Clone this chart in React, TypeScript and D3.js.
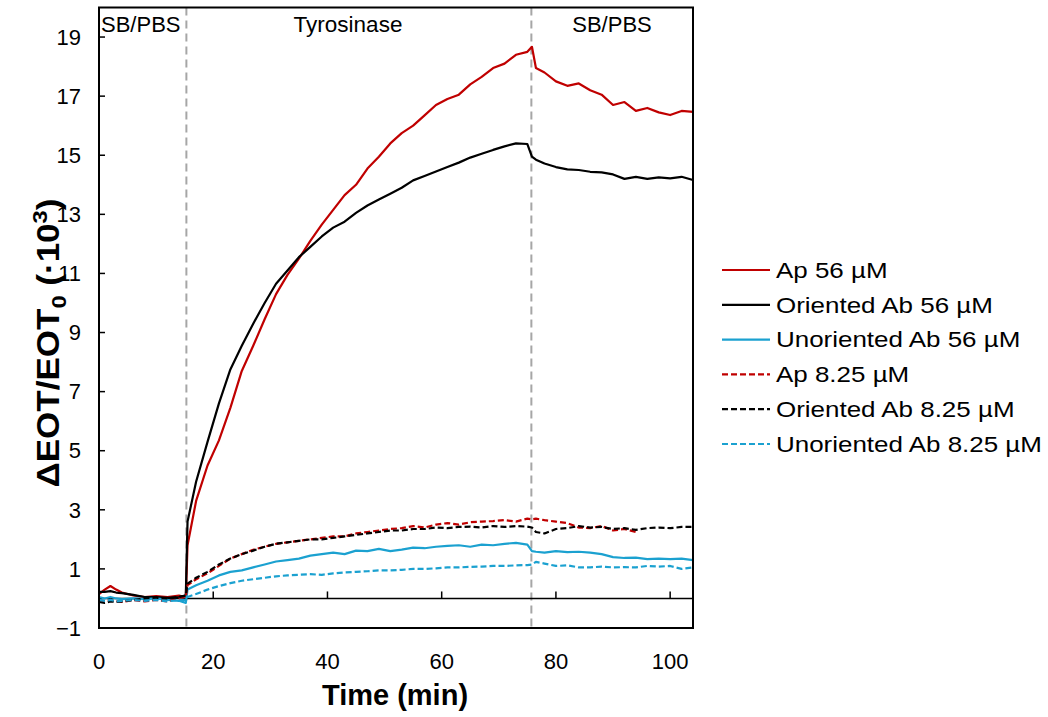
import React from 'react';
import * as d3 from 'd3';

const times = [0, 1, 2, 3, 4, 6, 8, 10, 12, 14, 15.2, 15.5, 17, 19, 21, 23, 25, 27, 29, 31, 33, 35, 37, 39, 41, 43, 45, 47, 49, 51, 53, 55, 57, 59, 61, 63, 65, 67, 69, 71, 73, 75, 75.8, 76.5, 78, 80, 82, 84, 86, 88, 90, 92, 94, 96, 98, 100, 102, 104];

const apHigh = [0.15, 0.3, 0.42, 0.3, 0.2, 0.1, 0.05, 0.08, 0.05, 0.1, 0.05, 1.8, 3.3, 4.5, 5.35, 6.45, 7.7, 8.55, 9.45, 10.3, 10.95, 11.5, 12.1, 12.65, 13.15, 13.65, 14.0, 14.55, 14.95, 15.4, 15.75, 16.0, 16.35, 16.7, 16.9, 17.05, 17.4, 17.65, 17.95, 18.1, 18.4, 18.5, 18.67, 17.95, 17.8, 17.5, 17.35, 17.43, 17.2, 17.05, 16.7, 16.8, 16.5, 16.6, 16.45, 16.36, 16.5, 16.47];

const orientedHigh = [0.22, 0.22, 0.25, 0.2, 0.18, 0.12, 0.05, 0.05, 0.02, 0.05, 0.1, 2.6, 3.95, 5.3, 6.6, 7.75, 8.55, 9.3, 10.0, 10.65, 11.1, 11.55, 11.9, 12.25, 12.55, 12.75, 13.05, 13.3, 13.5, 13.7, 13.9, 14.15, 14.3, 14.45, 14.6, 14.75, 14.92, 15.05, 15.18, 15.3, 15.4, 15.38, 14.95, 14.85, 14.72, 14.6, 14.52, 14.5, 14.44, 14.42, 14.35, 14.2, 14.27, 14.2, 14.25, 14.22, 14.27, 14.16];

const unorientedHigh = [0.05, 0.0, 0.05, 0.0, -0.02, 0.0, -0.02, 0.0, -0.05, -0.08, -0.15, 0.3, 0.45, 0.6, 0.78, 0.9, 0.95, 1.05, 1.15, 1.25, 1.3, 1.35, 1.45, 1.5, 1.55, 1.5, 1.62, 1.6, 1.68, 1.6, 1.65, 1.72, 1.7, 1.75, 1.78, 1.8, 1.75, 1.82, 1.8, 1.85, 1.88, 1.82, 1.6, 1.58, 1.55, 1.6, 1.57, 1.58, 1.55, 1.5, 1.4, 1.37, 1.38, 1.33, 1.35, 1.33, 1.35, 1.3];

const apLow = [-0.05, -0.1, -0.05, -0.1, -0.12, -0.05, -0.1, -0.05, -0.1, 0.0, 0.05, 0.45, 0.65, 0.85, 1.1, 1.35, 1.5, 1.65, 1.75, 1.85, 1.9, 1.95, 2.0, 2.05, 2.1, 2.1, 2.2, 2.25, 2.3, 2.35, 2.38, 2.45, 2.4, 2.5, 2.55, 2.5, 2.58, 2.6, 2.62, 2.65, 2.6, 2.7, 2.68, 2.7, 2.65, 2.6, 2.55, 2.4, 2.38, 2.45, 2.3, 2.35, 2.25, NaN, NaN, NaN, NaN, NaN];

const orientedLow = [-0.12, -0.15, -0.1, -0.12, -0.1, -0.05, 0.0, 0.02, 0.0, 0.05, 0.1, 0.5, 0.7, 0.9, 1.15, 1.35, 1.5, 1.62, 1.75, 1.85, 1.9, 1.95, 2.0, 2.0, 2.05, 2.1, 2.15, 2.2, 2.25, 2.3, 2.3, 2.35, 2.35, 2.4, 2.38, 2.42, 2.43, 2.4, 2.45, 2.42, 2.45, 2.43, 2.4, 2.25, 2.2, 2.35, 2.38, 2.45, 2.4, 2.42, 2.35, 2.38, 2.32, 2.38, 2.4, 2.38, 2.42, 2.42];

const unorientedLow = [-0.05, -0.08, -0.05, -0.1, -0.08, -0.05, -0.08, -0.05, -0.1, -0.05, -0.05, 0.05, 0.15, 0.3, 0.42, 0.52, 0.6, 0.65, 0.7, 0.75, 0.78, 0.8, 0.82, 0.8, 0.85, 0.88, 0.9, 0.92, 0.95, 0.95, 0.97, 1.0, 1.0, 1.02, 1.05, 1.05, 1.07, 1.08, 1.1, 1.1, 1.12, 1.13, 1.15, 1.24, 1.18, 1.1, 1.12, 1.05, 1.05, 1.08, 1.05, 1.06, 1.05, 1.1, 1.08, 1.1, 1.0, 1.05];

const seriesNames = ['Ap 56 µM', 'Oriented Ab 56 µM', 'Unoriented Ab 56 µM', 'Ap 8.25 µM', 'Oriented Ab 8.25 µM', 'Unoriented Ab 8.25 µM'];
const seriesValues = [apHigh, orientedHigh, unorientedHigh, apLow, orientedLow, unorientedLow];
const seriesColors = ['#c00000', '#000000', '#1ba1d0', '#c00000', '#000000', '#1ba1d0'];
const seriesDashed = [false, false, false, true, true, true];

const xTicks = [0, 20, 40, 60, 80, 100];
const yTicks = [-1, 1, 3, 5, 7, 9, 11, 13, 15, 17, 19];
const phaseBoundaries = [15.3, 75.7];
const phaseLabels = ['SB/PBS', 'Tyrosinase', 'SB/PBS'];

const FONT = 'Liberation Sans, Arial, sans-serif';

export default function App() {
  const W = 1048, H = 717;
  const left = 99, right = 693, top = 7.5, bottom = 628;
  const x = d3.scaleLinear().domain([0, 104]).range([left, right]);
  const y = d3.scaleLinear().domain([-1, 20]).range([bottom, top]);

  const line = d3.line<[number, number]>()
    .defined(d => !isNaN(d[1]))
    .x(d => x(d[0]))
    .y(d => y(d[1]));

  const legendX1 = 722, legendX2 = 770, legendY0 = 270, legendDy = 34.8;

  return (
    <svg width={W} height={H} style={{ position: 'absolute', left: 0, top: 0, background: '#fff' }} fontFamily={FONT}>
      <rect x={0} y={0} width={W} height={H} fill="#fff" />
      {phaseBoundaries.map((b, i) => (
        <line key={'pb' + i} x1={x(b)} x2={x(b)} y1={top} y2={bottom} stroke="#a6a6a6" strokeWidth={2} strokeDasharray="8,5" />
      ))}
      <line x1={left} x2={right} y1={y(0)} y2={y(0)} stroke="#000" strokeWidth={1.5} />
      {xTicks.filter(t => t > 0).map(t => (
        <line key={'xt' + t} x1={x(t)} x2={x(t)} y1={y(0)} y2={y(0) - 7} stroke="#000" strokeWidth={1.5} />
      ))}
      {seriesValues.map((vals, i) => (
        <path key={'s' + i}
          d={line(times.map((t, j) => [t, vals[j]] as [number, number])) || ''}
          fill="none" stroke={seriesColors[i]} strokeWidth={2.2}
          strokeDasharray={seriesDashed[i] ? '6,3' : undefined}
          strokeLinejoin="round" />
      ))}
      <rect x={left} y={top} width={right - left} height={bottom - top} fill="none" stroke="#000" strokeWidth={2} />
      {yTicks.map(t => (
        <g key={'yt' + t}>
          <line x1={left} x2={left + 6} y1={y(t)} y2={y(t)} stroke="#000" strokeWidth={1.5} />
          <text x={81} y={y(t)} dy="0.35em" textAnchor="end" fontSize={22} fill="#000">{t < 0 ? '\u2212' + Math.abs(t) : t}</text>
        </g>
      ))}
      {xTicks.map(t => (
        <text key={'xl' + t} x={x(t)} y={669} textAnchor="middle" fontSize={22} fill="#000">{t}</text>
      ))}
      <text x={101} y={32} fontSize={22} fill="#000">{phaseLabels[0]}</text>
      <text x={348} y={32} fontSize={22.5} textAnchor="middle" fill="#000">{phaseLabels[1]}</text>
      <text x={612} y={32} fontSize={22} textAnchor="middle" fill="#000">{phaseLabels[2]}</text>
      <text x={395} y={705} textAnchor="middle" fontSize={29} fontWeight="bold" fill="#000">Time (min)</text>
      <text transform="translate(59,343) rotate(-90) scale(1.13,1)" textAnchor="middle" fontSize={31} fontWeight="bold" fill="#000">
        ΔEOT/EOT<tspan fontSize={21} dy={7}>0</tspan><tspan dy={-7}> (·10</tspan><tspan fontSize={21} dy={-12}>3</tspan><tspan dy={12}>)</tspan>
      </text>
      {seriesNames.map((n, i) => {
        const ly = legendY0 + i * legendDy;
        return (
          <g key={'lg' + i}>
            <line x1={legendX1} x2={legendX2} y1={ly} y2={ly} stroke={seriesColors[i]} strokeWidth={2.2} strokeDasharray={seriesDashed[i] ? '6,3' : undefined} />
            <text transform={`translate(${legendX2 + 6},${ly}) scale(1.18,1)`} dy="0.35em" fontSize={22} fill="#000">{n}</text>
          </g>
        );
      })}
    </svg>
  );
}
